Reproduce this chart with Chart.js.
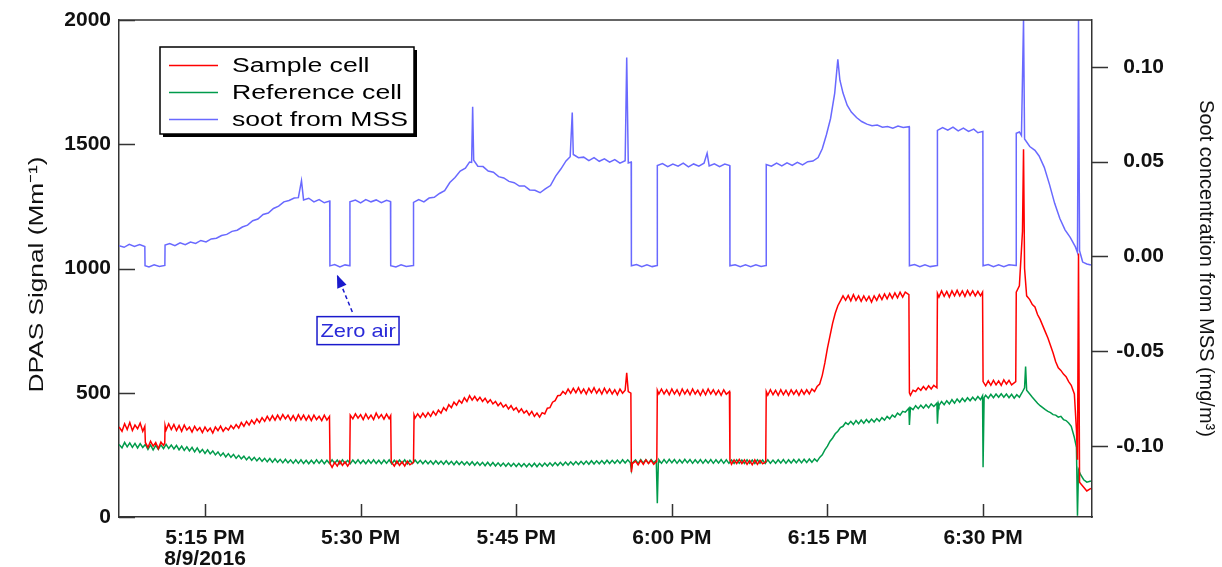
<!DOCTYPE html>
<html><head><meta charset="utf-8">
<script src="https://cdn.jsdelivr.net/npm/chart.js@4.4.0/dist/chart.umd.min.js"></script>
<style>html,body{margin:0;padding:0;background:#fff;overflow:hidden}</style>
</head><body>
<canvas id="c" width="1222" height="567"></canvas>
<script>
// minutes after 5:00 PM on 8/9/2016
const timeTicks = [15, 30, 45, 60, 75, 90];
const leftTicks = [0, 500, 1000, 1500, 2000];
const rightTicks = [-0.10, -0.05, 0.00, 0.05, 0.10];
const seriesLabels = ['Sample cell', 'Reference cell', 'soot from MSS'];
const leftTitle = 'DPAS Signal (Mm\u207B\u00B9)';
const rightTitle = 'Soot concentration from MSS (mg/m\u00B3)';
const annotationText = 'Zero air';

// [minute, DPAS signal Mm-1]
const sampleCell = [
[6.72,362],[7.0,345],[7.25,375],[7.5,352],[7.75,380],[8.0,348],[8.25,370],[8.5,355],[8.75,378],[9.0,345],[9.2,365],
[9.25,300],[9.5,280],[9.75,305],[10.0,285],[10.25,300],[10.5,275],[10.75,302],[11.0,288],[11.12,298],
[11.15,368],[11.25,350],[11.5,375],[11.75,352],[12.0,372],[12.25,348],[12.5,368],[12.75,345],[13.0,370],[13.25,350],[13.5,362],[13.75,342],[14.0,365],[14.25,348],[14.5,360],[14.75,340],[15.0,362],[15.25,345],[15.5,358],[15.75,338],[16.0,362],[16.25,348],[16.5,366],[16.75,345],[17.0,360],[17.25,350],[17.5,368],[17.75,355],[18.0,372],[18.25,358],[18.5,380],[18.75,365],[19.0,385],[19.25,370],[19.5,390],[19.75,375],[20.0,395],[20.25,380],[20.5,400],[20.75,385],[21.0,405],[21.25,388],[21.5,408],[21.75,390],[22.0,410],[22.25,392],[22.5,412],[22.75,395],[23.0,410],[23.25,390],[23.5,408],[23.75,388],[24.0,412],[24.25,392],[24.5,410],[24.75,390],[25.0,408],[25.25,388],[25.5,410],[25.75,392],[26.0,405],[26.25,388],[26.5,410],[26.75,390],[27.0,405],
[27.05,215],[27.25,200],[27.5,220],[27.75,205],[28.0,225],[28.25,208],[28.5,222],[28.75,205],[28.95,218],
[29.0,410],[29.25,395],[29.5,415],[29.75,398],[30.0,412],[30.25,392],[30.5,415],[30.75,395],[31.0,410],[31.25,392],[31.5,418],[31.75,398],[32.0,412],[32.25,394],[32.5,414],[32.75,396],[32.9,408],
[32.95,222],[33.25,205],[33.5,225],[33.75,208],[34.0,222],[34.25,205],[34.5,225],[34.75,210],[35.1,220],
[35.15,410],[35.25,398],[35.5,415],[35.75,400],[36.0,418],[36.25,402],[36.5,420],[36.75,405],[37.0,425],[37.25,410],[37.5,430],[37.75,418],[38.0,440],[38.25,428],[38.5,452],[38.75,440],[39.0,462],[39.25,450],[39.5,470],[39.75,458],[40.0,480],[40.25,465],[40.5,488],[40.75,470],[41.0,485],[41.25,468],[41.5,482],[41.75,465],[42.0,478],[42.25,460],[42.5,472],[42.75,455],[43.0,465],[43.25,448],[43.5,460],[43.75,442],[44.0,452],[44.25,435],[44.5,448],[44.75,430],[45.0,440],[45.25,422],[45.5,435],[45.75,418],[46.0,428],[46.25,410],[46.5,425],[46.75,405],[47.0,418],[47.25,402],[47.5,420],[47.75,415],[48.0,438],[48.25,440],[48.5,462],[48.75,468],[49.0,488],[49.25,490],[49.5,505],[49.75,495],[50.0,515],[50.25,498],[50.5,518],[50.75,500],[51.0,520],[51.25,498],[51.5,515],[51.75,495],[52.0,518],[52.25,500],[52.5,520],[52.75,498],[53.0,515],[53.25,495],[53.5,518],[53.75,498],[54.0,515],[54.25,495],[54.5,512],[54.75,492],[55.0,515],[55.25,498],[55.5,510],[55.65,580],[55.8,505],[56.05,498],
[56.1,180],[56.2,215],[56.5,225],[56.75,210],[57.0,228],[57.25,212],[57.5,230],[57.75,215],[58.0,228],[58.25,212],[58.55,225],
[58.6,510],[58.75,495],[59.0,515],[59.25,495],[59.5,512],[59.75,492],[60.0,515],[60.25,495],[60.5,512],[60.75,490],[61.0,515],[61.25,495],[61.5,512],[61.75,492],[62.0,515],[62.25,495],[62.5,510],[62.75,490],[63.0,512],[63.25,492],[63.5,515],[63.75,495],[64.0,512],[64.25,492],[64.5,510],[64.75,490],[65.0,512],[65.25,494],[65.55,505],
[65.6,228],[65.75,212],[66.0,230],[66.25,215],[66.5,232],[66.75,215],[67.0,230],[67.25,212],[67.5,228],[67.75,210],[68.0,230],[68.25,212],[68.5,228],[68.75,214],[69.05,222],
[69.1,505],[69.25,490],[69.5,512],[69.75,492],[70.0,510],[70.25,490],[70.5,512],[70.75,492],[71.0,510],[71.25,490],[71.5,512],[71.75,494],[72.0,510],[72.25,490],[72.5,512],[72.75,494],[73.0,512],[73.25,495],[73.5,515],[73.75,505],[74.0,525],[74.25,535],[74.5,570],[74.75,620],[75.0,680],[75.25,730],[75.5,780],[75.75,820],[76.0,850],[76.25,870],[76.5,890],[76.75,872],[77.0,892],[77.25,870],[77.5,895],[77.75,872],[78.0,890],[78.25,868],[78.5,890],[78.75,870],[79.0,888],[79.25,865],[79.5,890],[79.75,872],[80.0,895],[80.25,875],[80.5,898],[80.75,878],[81.0,900],[81.25,880],[81.5,902],[81.75,882],[82.0,905],[82.25,885],[82.5,905],[82.85,895],
[82.9,500],[83.0,490],[83.25,510],[83.5,505],[83.75,520],[84.0,510],[84.25,525],[84.5,512],[84.75,528],[85.0,515],[85.25,530],[85.55,520],
[85.6,900],[85.75,885],[86.0,910],[86.25,888],[86.5,908],[86.75,885],[87.0,910],[87.25,890],[87.5,912],[87.75,890],[88.0,910],[88.25,888],[88.5,912],[88.75,892],[89.0,910],[89.25,890],[89.5,908],[89.75,890],[89.95,905],
[90.0,545],[90.25,528],[90.5,548],[90.75,530],[91.0,550],[91.25,532],[91.5,548],[91.75,530],[92.0,552],[92.25,535],[92.5,550],[92.75,532],[93.15,545],
[93.2,905],[93.5,930],[93.8,1150],[93.9,1480],[94.0,1000],[94.2,890],[94.5,875],[94.75,855],[95.0,845],[95.25,815],[95.5,795],[95.75,770],[96.0,745],[96.25,720],[96.5,690],[96.75,660],[97.0,625],[97.25,600],[97.5,590],[97.75,575],[98.0,565],[98.25,545],[98.5,530],[98.8,495],[99.0,350],[99.1,230],[99.2,1060],[99.3,140],[99.6,125],[100.0,105],[100.4,115]
];

// [minute, DPAS signal Mm-1]
const referenceCell = [
[6.72,292],[7.0,278],[7.25,300],[7.5,282],[7.75,298],[8.0,280],[8.25,296],[8.5,278],[8.75,295],[9.0,280],[9.25,292],[9.5,272],[9.75,290],[10.0,270],[10.25,288],[10.5,272],[10.75,290],[11.0,275],[11.25,292],[11.5,276],[11.75,290],[12.0,274],[12.25,288],[12.5,270],[12.75,285],[13.0,268],[13.25,282],[13.5,266],[13.75,280],[14.0,262],[14.25,278],[14.5,260],[14.75,272],[15.0,256],[15.25,270],[15.5,254],[15.75,266],[16.0,250],[16.25,262],[16.5,246],[16.75,258],[17.0,242],[17.25,255],[17.5,240],[17.75,252],[18.0,236],[18.25,248],[18.5,234],[18.75,245],[19.0,230],[19.25,242],[19.5,228],[19.75,240],[20.0,226],[20.25,238],[20.5,224],[20.75,236],[21.0,222],[21.25,235],[21.5,220],[21.75,234],[22.0,220],[22.25,232],[22.5,218],[22.75,232],[23.0,218],[23.25,230],[23.5,216],[23.75,230],[24.0,216],[24.25,230],[24.5,215],[24.75,228],[25.0,214],[25.25,228],[25.5,215],[25.75,230],[26.0,216],[26.25,229],[26.5,214],[26.75,228],[27.0,215],[27.25,230],[27.5,216],[27.75,229],[28.0,214],[28.25,230],[28.5,216],[28.75,228],[29.0,214],[29.25,229],[29.5,216],[29.75,230],[30.0,215],[30.25,228],[30.5,214],[30.75,229],[31.0,216],[31.25,230],[31.5,215],[31.75,228],[32.0,214],[32.25,229],[32.5,216],[32.75,230],[33.0,214],[33.25,228],[33.5,215],[33.75,229],[34.0,216],[34.25,230],[34.5,214],[34.75,228],[35.0,215],[35.25,229],[35.5,216],[35.75,228],[36.0,214],[36.25,227],[36.5,214],[36.75,226],[37.0,212],[37.25,226],[37.5,213],[37.75,225],[38.0,212],[38.25,226],[38.5,212],[38.75,224],[39.0,210],[39.25,224],[39.5,211],[39.75,223],[40.0,210],[40.25,222],[40.5,209],[40.75,222],[41.0,208],[41.25,221],[41.5,208],[41.75,220],[42.0,206],[42.25,220],[42.5,206],[42.75,219],[43.0,205],[43.25,218],[43.5,205],[43.75,217],[44.0,204],[44.25,217],[44.5,204],[44.75,216],[45.0,203],[45.25,216],[45.5,203],[45.75,215],[46.0,202],[46.25,215],[46.5,203],[46.75,216],[47.0,202],[47.25,216],[47.5,204],[47.75,217],[48.0,205],[48.25,218],[48.5,206],[48.75,219],[49.0,207],[49.25,220],[49.5,208],[49.75,221],[50.0,209],[50.25,222],[50.5,210],[50.75,223],[51.0,211],[51.25,224],[51.5,212],[51.75,225],[52.0,212],[52.25,226],[52.5,213],[52.75,226],[53.0,214],[53.25,227],[53.5,214],[53.75,228],[54.0,215],[54.25,228],[54.5,216],[54.75,229],[55.0,216],[55.25,230],[55.5,217],[55.75,230],[56.0,218],[56.1,190],[56.2,218],[56.5,230],[56.75,216],[57.0,231],[57.25,217],[57.5,230],[57.75,216],[58.0,231],[58.25,218],[58.5,228],[58.6,55],[58.7,220],[58.75,230],[59.0,216],[59.25,231],[59.5,217],[59.75,232],[60.0,218],[60.25,231],[60.5,216],[60.75,230],[61.0,217],[61.25,232],[61.5,218],[61.75,231],[62.0,216],[62.25,230],[62.5,217],[62.75,231],[63.0,216],[63.25,230],[63.5,217],[63.75,231],[64.0,216],[64.25,230],[64.5,217],[64.75,231],[65.0,216],[65.25,230],[65.5,216],[65.75,229],[66.0,215],[66.25,230],[66.5,216],[66.75,229],[67.0,215],[67.25,230],[67.5,216],[67.75,229],[68.0,215],[68.25,230],[68.5,216],[68.75,229],[69.0,215],[69.25,230],[69.5,216],[69.75,229],[70.0,216],[70.25,230],[70.5,217],[70.75,231],[71.0,216],[71.25,230],[71.5,217],[71.75,231],[72.0,218],[72.25,232],[72.5,218],[72.75,232],[73.0,219],[73.25,233],[73.5,220],[73.75,234],[74.0,224],[74.25,240],[74.5,250],[74.75,270],[75.0,285],[75.25,305],[75.5,318],[75.75,335],[76.0,345],[76.25,360],[76.5,365],[76.75,380],[77.0,372],[77.25,385],[77.5,372],[77.75,388],[78.0,375],[78.25,390],[78.5,377],[78.75,392],[79.0,380],[79.25,394],[79.5,382],[79.75,396],[80.0,385],[80.25,400],[80.5,390],[80.75,405],[81.0,395],[81.25,410],[81.5,402],[81.75,418],[82.0,410],[82.25,425],[82.5,422],[82.85,438],[82.9,370],[83.0,440],[83.25,432],[83.5,448],[83.75,436],[84.0,450],[84.25,438],[84.5,452],[84.75,440],[85.0,455],[85.25,445],[85.55,458],[85.6,375],[85.7,455],[85.75,448],[86.0,465],[86.25,452],[86.5,468],[86.75,455],[87.0,472],[87.25,458],[87.5,475],[87.75,462],[88.0,478],[88.25,465],[88.5,480],[88.75,468],[89.0,482],[89.25,470],[89.5,485],[89.75,472],[89.95,488],[90.0,200],[90.1,480],[90.25,490],[90.5,478],[90.75,494],[91.0,480],[91.25,495],[91.5,482],[91.75,496],[92.0,482],[92.25,495],[92.5,480],[92.75,494],[93.0,478],[93.25,492],[93.5,482],[93.75,500],[94.0,520],[94.1,605],[94.2,510],[94.5,495],[94.75,482],[95.0,470],[95.25,458],[95.5,448],[95.75,440],[96.0,432],[96.25,425],[96.5,420],[96.75,412],[97.0,410],[97.25,402],[97.5,405],[97.75,392],[98.0,388],[98.25,378],[98.5,365],[98.8,320],[99.0,280],[99.1,5],[99.2,190],[99.4,170],[99.7,150],[100.0,140],[100.4,145]
];

// [minute, soot mg/m3]
const sootMSS = [
[6.72,0.0056],[7.2,0.0048],[7.7,0.0064],[8.2,0.0053],[8.7,0.0062],[9.2,0.0052],[9.22,-0.0049],[9.6,-0.0056],[10.1,-0.0045],[10.6,-0.0053],[11.13,-0.0048],[11.15,0.0060],[11.6,0.0068],[12.1,0.0056],[12.6,0.0072],[13.1,0.0062],[13.6,0.0076],[14.1,0.0068],[14.6,0.0084],[15.1,0.0076],[15.6,0.0092],[16.1,0.0096],[16.6,0.0110],[17.1,0.0116],[17.6,0.0132],[18.1,0.0138],[18.6,0.0155],[19.1,0.0165],[19.6,0.0188],[20.1,0.0197],[20.6,0.0221],[21.1,0.0229],[21.6,0.0253],[22.1,0.0265],[22.6,0.0288],[23.1,0.0295],[23.6,0.0308],[24.0,0.0310],[24.3,0.0400],[24.5,0.0298],[25.0,0.0307],[25.5,0.0288],[26.0,0.0300],[26.5,0.0283],[27.02,0.0292],[27.04,-0.0050],[27.5,-0.0043],[28.0,-0.0056],[28.5,-0.0045],[28.95,-0.0050],[28.97,0.0288],[29.5,0.0297],[30.0,0.0282],[30.5,0.0300],[31.0,0.0288],[31.5,0.0298],[32.0,0.0283],[32.5,0.0296],[32.88,0.0290],[32.9,-0.0049],[33.4,-0.0056],[33.9,-0.0044],[34.4,-0.0053],[35.08,-0.0048],[35.1,0.0285],[35.6,0.0300],[36.1,0.0288],[36.6,0.0308],[37.1,0.0312],[37.6,0.0332],[38.1,0.0347],[38.6,0.0390],[39.1,0.0416],[39.6,0.0450],[40.1,0.0466],[40.5,0.0498],[40.7,0.0496],[40.8,0.0790],[40.9,0.0508],[41.3,0.0476],[41.8,0.0474],[42.3,0.0451],[42.8,0.0444],[43.3,0.0421],[43.8,0.0414],[44.3,0.0396],[44.8,0.0389],[45.3,0.0371],[45.8,0.0372],[46.3,0.0351],[46.8,0.0349],[47.3,0.0336],[47.8,0.0356],[48.3,0.0374],[48.8,0.0424],[49.3,0.0461],[49.8,0.0504],[50.2,0.0526],[50.4,0.0760],[50.5,0.0538],[51.0,0.0521],[51.5,0.0524],[52.0,0.0506],[52.5,0.0521],[53.0,0.0502],[53.5,0.0515],[54.0,0.0497],[54.5,0.0511],[55.0,0.0492],[55.5,0.0505],[55.65,0.1050],[55.8,0.0493],[56.08,0.0498],[56.1,-0.0050],[56.6,-0.0043],[57.1,-0.0055],[57.6,-0.0045],[58.1,-0.0054],[58.58,-0.0048],[58.6,0.0480],[59.1,0.0490],[59.6,0.0474],[60.1,0.0487],[60.6,0.0476],[61.1,0.0492],[61.6,0.0473],[62.1,0.0488],[62.6,0.0476],[63.1,0.0492],[63.4,0.0545],[63.6,0.0478],[64.1,0.0489],[64.6,0.0474],[65.1,0.0487],[65.58,0.0480],[65.6,-0.0050],[66.1,-0.0044],[66.6,-0.0055],[67.1,-0.0045],[67.6,-0.0054],[68.1,-0.0044],[68.6,-0.0053],[69.08,-0.0048],[69.1,0.0485],[69.6,0.0476],[70.1,0.0492],[70.6,0.0478],[71.1,0.0494],[71.6,0.0480],[72.1,0.0497],[72.6,0.0483],[73.1,0.0500],[73.6,0.0503],[74.1,0.0522],[74.5,0.0568],[74.9,0.0642],[75.3,0.0728],[75.7,0.0862],[76.0,0.1040],[76.2,0.0930],[76.5,0.0862],[76.9,0.0798],[77.3,0.0762],[77.8,0.0733],[78.3,0.0712],[78.8,0.0698],[79.3,0.0690],[79.8,0.0693],[80.3,0.0682],[80.8,0.0686],[81.3,0.0677],[81.8,0.0688],[82.3,0.0680],[82.88,0.0685],[82.9,-0.0050],[83.4,-0.0043],[83.9,-0.0055],[84.4,-0.0045],[84.9,-0.0054],[85.58,-0.0048],[85.6,0.0665],[86.1,0.0680],[86.6,0.0666],[87.1,0.0682],[87.6,0.0663],[88.1,0.0677],[88.6,0.0660],[89.1,0.0672],[89.5,0.0653],[89.98,0.0660],[90.0,-0.0050],[90.5,-0.0043],[91.0,-0.0055],[91.5,-0.0045],[92.0,-0.0054],[92.5,-0.0044],[93.18,-0.0048],[93.2,0.0650],[93.5,0.0657],[93.7,0.0638],[93.9,0.1249],[94.0,0.0620],[94.5,0.0580],[95.0,0.0560],[95.4,0.0530],[95.9,0.0470],[96.4,0.0380],[96.9,0.0280],[97.4,0.0200],[97.9,0.0140],[98.4,0.0100],[98.9,0.0050],[99.1,0.0020],[99.2,0.1249],[99.3,0.0030],[99.6,-0.0030],[100.0,-0.0040],[100.4,-0.0045]
];

const RED = 'rgb(255,0,0)', GREEN = 'rgb(0,155,75)', BLUE = 'rgb(105,105,255)';
const AXIS = '#333333';
const FAM = '"Liberation Sans", Arial, sans-serif';
const toPts = arr => arr.map(p => ({x: p[0], y: p[1]}));

function timeLabel(m) {
  const h = 5 + Math.floor(m / 60), mm = m % 60;
  const s = h + ':' + String(mm).padStart(2, '0') + ' PM';
  return m === timeTicks[0] ? [s, '8/9/2016'] : s;
}

function stretchText(ctx, text, x, y, sx, align, rot) {
  ctx.save();
  ctx.translate(x, y);
  if (rot) ctx.rotate(rot);
  ctx.scale(sx, 1);
  ctx.textAlign = align || 'left';
  ctx.fillText(text, 0, 0);
  ctx.restore();
}

const noPad = s => { s.paddingTop = 0; s.paddingBottom = 0; s.paddingLeft = 0; s.paddingRight = 0; };

const decor = {
  id: 'decor',
  afterDraw(chart) {
    const ctx = chart.ctx, a = chart.chartArea;
    const xs = chart.scales.x, yl = chart.scales.y, yr = chart.scales.y2;
    ctx.save();
    ctx.strokeStyle = AXIS; ctx.lineWidth = 1.5;
    ctx.beginPath();
    ctx.moveTo(a.left, a.top); ctx.lineTo(a.right, a.top);
    yl.ticks.forEach(t => { const y = Math.round(yl.getPixelForValue(t.value)) + 0.5; ctx.moveTo(a.left, y); ctx.lineTo(a.left + 16, y); });
    yr.ticks.forEach(t => { const y = Math.round(yr.getPixelForValue(t.value)) + 0.5; ctx.moveTo(a.right, y); ctx.lineTo(a.right + 16, y); });
    xs.ticks.forEach(t => { const x = Math.round(xs.getPixelForValue(t.value)) + 0.5; ctx.moveTo(x, a.bottom); ctx.lineTo(x, a.bottom - 13); });
    ctx.stroke();

    // right tick labels (right aligned)
    ctx.fillStyle = '#111';
    ctx.font = 'bold 21px ' + FAM;
    ctx.textBaseline = 'middle';
    ctx.textAlign = 'right';
    yr.ticks.forEach(t => { ctx.fillText(t.value.toFixed(2), 1164, yr.getPixelForValue(t.value)); });

    // left axis title
    ctx.font = '21px ' + FAM;
    ctx.textBaseline = 'middle';
    stretchText(ctx, leftTitle, 37, (a.top + a.bottom) / 2 + 6, 1.25, 'center', -Math.PI / 2);

    // legend
    const lx = 160, ly = 47, lw = 254, lh = 87;
    ctx.fillStyle = '#000';
    ctx.fillRect(lx + 3, ly + 3, lw, lh);
    ctx.fillStyle = '#fff';
    ctx.fillRect(lx, ly, lw, lh);
    ctx.strokeStyle = '#000'; ctx.lineWidth = 1.5;
    ctx.strokeRect(lx, ly, lw, lh);
    const rows = [65, 92, 119];
    ctx.font = '20px ' + FAM;
    ctx.textBaseline = 'middle';
    chart.data.datasets.forEach((ds, i) => {
      ctx.strokeStyle = ds.borderColor; ctx.lineWidth = 1.5;
      ctx.beginPath(); ctx.moveTo(169, rows[i] + 0.5); ctx.lineTo(218, rows[i] + 0.5); ctx.stroke();
      ctx.fillStyle = '#000';
      stretchText(ctx, ds.label, 232, rows[i] + 1, 1.33, 'left');
    });

    // Zero air annotation (arrow to zero-air step)
    const tipX = xs.getPixelForValue(27.72), tipY = yl.getPixelForValue(975);
    const tailX = xs.getPixelForValue(29.2), tailY = yl.getPixelForValue(825);
    ctx.strokeStyle = '#1a1acc'; ctx.fillStyle = '#1a1acc'; ctx.lineWidth = 1.5;
    ctx.setLineDash([4, 3]);
    ctx.beginPath(); ctx.moveTo(tailX, tailY); ctx.lineTo(tipX, tipY); ctx.stroke();
    ctx.setLineDash([]);
    const ang = Math.atan2(tipY - tailY, tipX - tailX), hl = 13, hw = 5;
    ctx.beginPath();
    ctx.moveTo(tipX, tipY);
    ctx.lineTo(tipX - hl * Math.cos(ang) + hw * Math.sin(ang), tipY - hl * Math.sin(ang) - hw * Math.cos(ang));
    ctx.lineTo(tipX - hl * Math.cos(ang) - hw * Math.sin(ang), tipY - hl * Math.sin(ang) + hw * Math.cos(ang));
    ctx.closePath(); ctx.fill();
    const bx = xs.getPixelForValue(29.75), by = yl.getPixelForValue(750);
    ctx.fillStyle = '#fff';
    ctx.fillRect(bx - 41, by - 14, 82, 28);
    ctx.strokeStyle = '#1a1acc'; ctx.lineWidth = 1.5;
    ctx.strokeRect(bx - 41, by - 14, 82, 28);
    ctx.fillStyle = '#2a2ad8';
    ctx.font = '19px ' + FAM;
    ctx.textBaseline = 'middle';
    stretchText(ctx, annotationText, bx, by + 1, 1.15, 'center');
    ctx.restore();
  }
};

const tickFont = {family: FAM, size: 21, weight: 'bold', lineHeight: 1.0};
const titleFont = {family: FAM, size: 20, weight: 'normal', lineHeight: 1.2};

new Chart(document.getElementById('c'), {
  type: 'line',
  data: {
    datasets: [
      {label: seriesLabels[0], data: toPts(sampleCell), borderColor: RED, yAxisID: 'y'},
      {label: seriesLabels[1], data: toPts(referenceCell), borderColor: GREEN, yAxisID: 'y'},
      {label: seriesLabels[2], data: toPts(sootMSS), borderColor: BLUE, yAxisID: 'y2'}
    ]
  },
  options: {
    responsive: false,
    animation: false,
    parsing: false,
    normalized: true,
    layout: {padding: {top: 20, left: 0, right: 0, bottom: 0}},
    elements: {line: {borderWidth: 1.5, tension: 0}, point: {radius: 0}},
    plugins: {legend: {display: false}, tooltip: {enabled: false}},
    scales: {
      x: {
        type: 'linear', position: 'bottom', min: 6.71, max: 100.5,
        afterBuildTicks: s => { s.ticks = timeTicks.map(v => ({value: v})); },
        afterFit: s => { s.height = 50; noPad(s); },
        grid: {display: false, drawTicks: false},
        border: {display: true, color: AXIS, width: 1.5},
        ticks: {autoSkip: false, maxRotation: 0, minRotation: 0, padding: 11, color: '#111', font: tickFont, callback: v => timeLabel(v)}
      },
      y: {
        type: 'linear', position: 'left', min: 0, max: 2000,
        afterBuildTicks: s => { s.ticks = leftTicks.map(v => ({value: v})); },
        afterFit: s => { s.width = 119; noPad(s); },
        grid: {display: false, drawTicks: false},
        border: {display: true, color: AXIS, width: 1.5},
        ticks: {padding: 8, color: '#111', font: tickFont, callback: v => String(v)}
      },
      y2: {
        type: 'linear', position: 'right', min: -0.1376, max: 0.1248,
        afterBuildTicks: s => { s.ticks = rightTicks.map(v => ({value: v})); },
        afterFit: s => { s.width = 130; noPad(s); },
        grid: {display: false, drawTicks: false},
        border: {display: true, color: AXIS, width: 1.5},
        ticks: {display: false},
        title: {display: true, text: rightTitle, color: '#111', font: titleFont, padding: {top: 4, bottom: 0}}
      }
    }
  },
  plugins: [decor]
});
</script>
</body></html>
